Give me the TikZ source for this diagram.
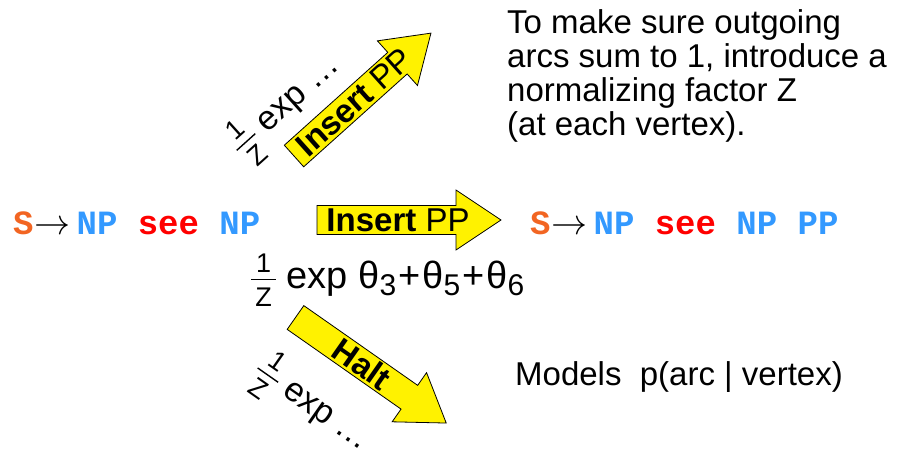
\documentclass[tikz,border=0pt]{standalone}
\usepackage{graphicx}
\usepackage{fontspec}
\setmainfont{Liberation Sans}
\newfontfamily\rulefont{Liberation Mono}
\usepackage{tikz}
\usetikzlibrary{positioning}

\definecolor{lhsorange}{RGB}{242,101,34}
\definecolor{ntblue}{RGB}{51,153,255}
\definecolor{wordred}{RGB}{255,0,0}

\newcommand\lhs{{\color{lhsorange}S}}
\newcommand\nt[1]{{\color{ntblue}#1}}
\newcommand\word[1]{{\color{wordred}#1}}
\newcommand\rarr{\scalebox{3.6}{\normalsize$\rightarrow$}}
\newcommand\fracfont{\fontsize{27}{27}\selectfont}
\newcommand\zfrac{\raisebox{-18pt}{\vbox{\hbox to 25pt{\hss\fracfont 1\hss}\kern7pt
  \hrule height 1.4pt\kern7pt\hbox to 25pt{\hss\fracfont Z\hss}}}}
\newcommand\thsub[1]{θ\raisebox{-7pt}{\fontsize{30}{30}\selectfont #1}}
\newcommand\tplus{\hspace{2pt}+\hspace{2pt}}
\newcommand\blockarrow[4]{% tail, angle, name, text
  \begin{scope}[shift={#1},rotate=#2]
    \draw[arrowbody] (0,-14.5) -- (139,-14.5) -- (139,-30) -- (184,0)
      -- (139,30) -- (139,14.5) -- (0,14.5) -- cycle;
    \node[arrowtext] (#3) at (81,0) {#4};
  \end{scope}}

\begin{document}
\begin{tikzpicture}[
  x=1pt, y=-1pt, inner sep=0pt,
  arrowbody/.style={draw, line width=0.8pt, fill=yellow, line join=miter},
  arrowtext/.style={transform shape, font=\fontsize{33}{36}\selectfont},
  rule/.style={anchor=base west, font=\rulefont\bfseries\fontsize{34}{36}\selectfont},
  wlbl/.style={font=\fontsize{34}{36}\selectfont},
  note/.style={anchor=north west, align=left, font=\fontsize{33}{34}\selectfont}
]
\useasboundingbox (0,0) rectangle (902,452);

% the two rules
\node[rule] (oldrule) at (13,234) {\lhs\hspace{1pt}\rarr\hspace{6pt}\nt{NP} \word{see} \nt{NP}};
\node[rule] (newrule) at (530,234) {\lhs\hspace{1pt}\rarr\hspace{6pt}\nt{NP} \word{see} \nt{NP} \nt{PP}};

% arcs
\blockarrow{(317,220)}{0}{insmid}{\textbf{Insert} PP}
\blockarrow{(294,156)}{41.9}{insup}{\textbf{Insert} PP}
\blockarrow{(295.5,317.5)}{-35}{halt}{\textbf{Halt}}

% weights
\node[wlbl, anchor=base west, font=\fontsize{38}{40}\selectfont] (wmid) at (251,288)
  {\zfrac\ exp \thsub{3}\tplus\thsub{5}\tplus\thsub{6}};
\node[wlbl, rotate=42] (wup) at (286,106) {\zfrac\ exp \dots};
\node[wlbl, rotate=-35] (wdown) at (312,406) {\zfrac\ exp \dots};

% comments
\node[note] (norm) at (507,9) {To make sure outgoing\\arcs sum to 1, introduce a\\normalizing factor Z\\(at each vertex).};
\node[anchor=base west, font=\fontsize{33}{34}\selectfont] (models) at (515,385) {Models\ \ p(arc | vertex)};
\end{tikzpicture}
\end{document}
